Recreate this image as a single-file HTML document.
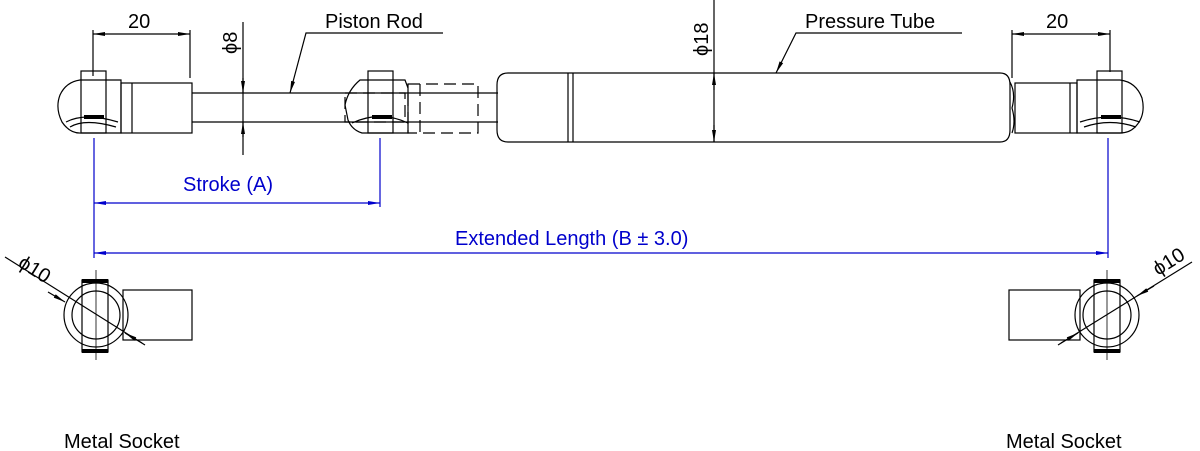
<!DOCTYPE html>
<html><head><meta charset="utf-8"><style>
html,body{margin:0;padding:0;background:#fff;}
svg{display:block;}
text{font-family:"Liberation Sans",Arial,sans-serif;}
</style></head><body>
<svg width="1200" height="451" viewBox="0 0 1200 451" xmlns="http://www.w3.org/2000/svg">
<defs>
<marker id="ab" markerWidth="12" markerHeight="6" refX="12" refY="3" orient="auto-start-reverse" markerUnits="userSpaceOnUse"><path d="M0,1 L12,3 L0,5Z" fill="#000"/></marker>
<marker id="ablue" markerWidth="12" markerHeight="6" refX="12" refY="3" orient="auto-start-reverse" markerUnits="userSpaceOnUse"><path d="M0,1 L12,3 L0,5Z" fill="#00c"/></marker>
</defs>
<g fill="none" stroke="#000" stroke-width="1.2">
<path d="M80,80 L121,80 L121,133 L82,133 Q70,134 62,122 Q55,108 60,95 Q66,82 80,80Z"/>
<rect x="81" y="71" width="25" height="62"/>
<path d="M66,122 Q85,112 118,122"/>
<path d="M70,127 Q85,118 116,127"/>
<rect x="121" y="83" width="71" height="50"/>
<line x1="132" y1="83" x2="132" y2="133"/>
<line x1="192" y1="93" x2="498" y2="93"/>
<line x1="192" y1="122" x2="498" y2="122"/>
<path d="M360,80 L405,80 L408,88 L408,133 L362,133 Q352,130 348,120 L345,105 Q348,90 360,80Z"/>
<rect x="368" y="71" width="25" height="62"/>
<path d="M352,123 Q380,110 408,123"/>
<g stroke-dasharray="12,6"><rect x="408" y="84" width="70" height="49"/><line x1="420" y1="84" x2="420" y2="133"/><rect x="345" y="93" width="60" height="29"/></g>
<path d="M508,73 L1000,73 Q1010,73 1010,85 L1010,130 Q1010,142 1000,142 L508,142 Q497,142 497,130 L497,85 Q497,73 508,73Z"/>
<line x1="568" y1="73" x2="568" y2="142"/>
<line x1="573" y1="73" x2="573" y2="142"/>
<path d="M1010,82 Q1016,93 1012,108 Q1016,122 1012,133"/>
<rect x="1015" y="83" width="62" height="50"/>
<line x1="1070" y1="83" x2="1070" y2="133"/>
<path d="M1077,80 L1120,80 Q1136,82 1142,98 Q1146,115 1136,126 Q1130,133 1120,133 L1077,133Z"/>
<rect x="1097" y="71" width="25" height="62"/>
<path d="M1080,122 Q1110,112 1140,122"/>
<path d="M1084,127 Q1110,118 1136,127"/>
<line x1="93" y1="30" x2="93" y2="76"/>
<line x1="190" y1="30" x2="190" y2="78"/>
<line x1="93" y1="34" x2="190" y2="34" marker-start="url(#ab)" marker-end="url(#ab)"/>
<line x1="1012" y1="30" x2="1012" y2="78"/>
<line x1="1110" y1="30" x2="1110" y2="72"/>
<line x1="1012" y1="34" x2="1110" y2="34" marker-start="url(#ab)" marker-end="url(#ab)"/>
<line x1="243" y1="22" x2="243" y2="155"/>
<path d="M243,78 L243,93" marker-end="url(#ab)"/><path d="M243,137 L243,122" marker-end="url(#ab)"/>
<line x1="714" y1="0" x2="714" y2="142"/>
<path d="M714,73 L714,90" marker-start="url(#ab)"/><path d="M714,142 L714,125" marker-start="url(#ab)"/>
<polyline points="443,33 306,33 290,93" marker-end="url(#ab)"/>
<polyline points="962,33 796,33 776,73" marker-end="url(#ab)"/>
<circle cx="96" cy="315" r="32"/>
<circle cx="96" cy="315" r="24"/>
<rect x="82" y="280" width="26" height="72"/>
<rect x="123" y="290" width="69" height="50"/>
<line x1="96" y1="270" x2="96" y2="360" stroke-width="0.8"/>
<line x1="5" y1="257" x2="145" y2="345"/>
<path d="M48,292 L65,302" marker-end="url(#ab)"/><path d="M142,343 L125,333" marker-end="url(#ab)"/>
<circle cx="1107" cy="315" r="32"/>
<circle cx="1107" cy="315" r="24"/>
<rect x="1094" y="280" width="26" height="72"/>
<rect x="1009" y="290" width="71" height="50"/>
<line x1="1107" y1="270" x2="1107" y2="360" stroke-width="0.8"/>
<line x1="1058" y1="345" x2="1192" y2="262"/>
<path d="M1154,286 L1137,296" marker-end="url(#ab)"/><path d="M1061,343 L1078,333" marker-end="url(#ab)"/>
</g>
<g fill="#000">
<rect x="82" y="279" width="26" height="4"/><rect x="82" y="349" width="26" height="4"/>
<rect x="1094" y="279" width="26" height="4"/><rect x="1094" y="349" width="26" height="4"/>
<rect x="84" y="115" width="20" height="4"/><rect x="372" y="115" width="20" height="4"/><rect x="1101" y="115" width="20" height="4"/>
</g>
<g stroke="#00c" stroke-width="1.2" fill="none">
<line x1="94" y1="138" x2="94" y2="258"/>
<line x1="380" y1="138" x2="380" y2="207"/>
<line x1="1108" y1="138" x2="1108" y2="258"/>
<line x1="94" y1="203" x2="380" y2="203" marker-start="url(#ablue)" marker-end="url(#ablue)"/>
<line x1="94" y1="253" x2="1108" y2="253" marker-start="url(#ablue)" marker-end="url(#ablue)"/>
</g>
<g font-size="20" fill="#000">
<text x="128" y="28">20</text>
<text x="1046" y="28">20</text>
<text x="325" y="28">Piston Rod</text>
<text x="805" y="28">Pressure Tube</text>
<text transform="translate(237,54) rotate(-90)">ϕ8</text>
<text transform="translate(708,56) rotate(-90)">ϕ18</text>
<text transform="translate(17,266) rotate(32)">ϕ10</text>
<text transform="translate(1158,276) rotate(-32)">ϕ10</text>
<text x="64" y="448">Metal Socket</text>
<text x="1006" y="448">Metal Socket</text>
</g>
<g font-size="20" fill="#00c">
<text x="183" y="191">Stroke (A)</text>
<text x="455" y="245">Extended Length (B ± 3.0)</text>
</g>
</svg>
</body></html>
